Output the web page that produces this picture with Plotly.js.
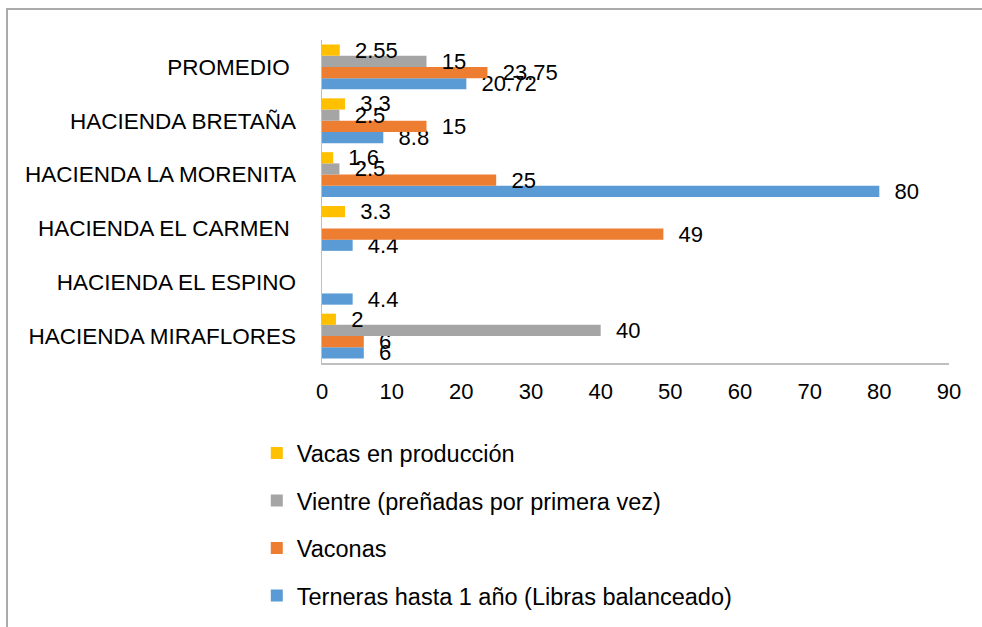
<!DOCTYPE html>
<html>
<head>
<meta charset="utf-8">
<script src="https://cdn.plot.ly/plotly-3.0.1.min.js"></script>
<style>
html,body{margin:0;padding:0;background:#fff;}
#wrap{position:relative;width:982px;height:627px;}
#chart{width:982px;height:627px;}
#frame{position:absolute;left:6px;top:8px;right:0;bottom:0;border-top:2px solid #ababab;border-left:2px solid #ababab;pointer-events:none;}
</style>
</head>
<body>
<div id="wrap"><div id="chart"></div><div id="frame"></div></div>
<script>
const categories = [
  "HACIENDA MIRAFLORES",
  "HACIENDA EL ESPINO",
  "HACIENDA EL CARMEN\u00a0",
  "HACIENDA LA MORENITA",
  "HACIENDA BRETAÑA",
  "PROMEDIO\u00a0"
];
const seriesNames = [
  "Terneras hasta 1 año (Libras balanceado)",
  "Vaconas",
  "Vientre (preñadas por primera vez)",
  "Vacas en producción"
];
const terneras = [6, 4.4, 4.4, 80, 8.8, 20.72];
const vaconas  = [6, null, 49, 25, 15, 23.75];
const vientre  = [40, null, null, 2.5, 2.5, 15];
const vacas    = [2, null, 3.3, 1.6, 3.3, 2.55];
const xTicks = [0, 10, 20, 30, 40, 50, 60, 70, 80, 90];

const colors = ["#5b9bd5", "#ed7d31", "#a5a5a5", "#ffc000"];
const values = [terneras, vaconas, vientre, vacas];
const FONT = "Liberation Sans, Arial, sans-serif";

const traces = values.map((v, i) => ({
  type: "bar",
  orientation: "h",
  name: seriesNames[i],
  y: categories,
  x: v,
  marker: {color: colors[i]},
  text: v.map(d => d === null ? "" : "\u00a0\u00a0" + d),
  texttemplate: "%{text}",
  textposition: "outside",
  constraintext: "none",
  cliponaxis: false,
  textfont: {family: FONT, size: 22, color: "#000"},
  legendgroup: "g" + i,
  legendrank: 1000 - i,
  hoverinfo: "x+name"
}));

const layout = {
  width: 982,
  height: 627,
  margin: {l: 322, r: 33, t: 40, b: 264, autoexpand: false},
  paper_bgcolor: "#fff",
  plot_bgcolor: "#fff",
  barmode: "group",
  bargap: 0.167,
  bargroupgap: 0,
  font: {family: FONT, size: 22, color: "#000"},
  showlegend: true,
  legend: {
    traceorder: "grouped",
    tracegroupgap: 14,
    x: -0.104, xanchor: "left",
    y: -0.2110, yanchor: "top",
    font: {family: FONT, size: 23.5, color: "#000"},
    itemwidth: 30,
    bgcolor: "rgba(0,0,0,0)"
  },
  xaxis: {
    range: [0, 90],
    tickvals: xTicks,
    ticktext: xTicks.map(String),
    showgrid: false,
    zeroline: false,
    showline: true,
    linecolor: "#bfbfbf",
    linewidth: 1.5,
    ticks: "",
    ticklabelstandoff: 8,
    tickfont: {family: FONT, size: 22, color: "#000"},
    fixedrange: true
  },
  yaxis: {
    type: "category",
    categoryorder: "array",
    categoryarray: categories,
    showgrid: false,
    zeroline: false,
    showline: true,
    linecolor: "#bfbfbf",
    linewidth: 1.5,
    ticks: "",
    ticklabelstandoff: 20,
    tickfont: {family: FONT, size: 22.5, color: "#000"},
    fixedrange: true
  }
};

Plotly.newPlot("chart", traces, layout, {displayModeBar: false, staticPlot: true});
</script>
</body>
</html>
